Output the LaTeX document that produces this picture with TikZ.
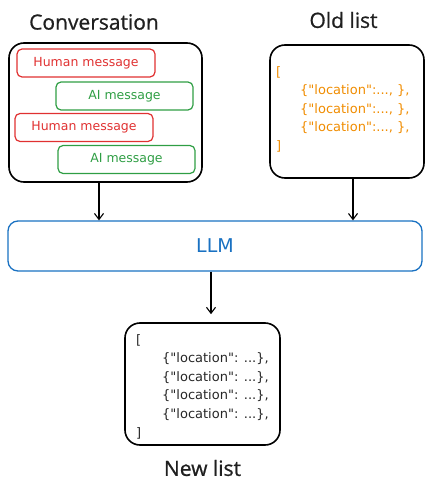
\documentclass[tikz,border=0pt]{standalone}
\usepackage{fontspec}
\setmainfont{Open Sans}
\newfontfamily\handfont{DejaVu Sans}
\newfontfamily\titfont[FakeBold=0.8]{Open Sans}
\usetikzlibrary{positioning,arrows.meta,calc}
\definecolor{xred}{HTML}{E03131}
\definecolor{xgreen}{HTML}{2F9E44}
\definecolor{xblue}{HTML}{1971C2}
\definecolor{xorange}{HTML}{F08C00}
\tikzset{
  skupina/.style={draw=black,line width=1.6pt,rounded corners=15pt,inner sep=0pt},
  titul/.style={font=\titfont\fontsize{21}{24}\selectfont,text=black!88},
  zpravaH/.style={draw=xred,line width=1.2pt,rounded corners=5pt,minimum width=138pt,minimum height=28pt,
    text=xred,font=\handfont\fontsize{12.5}{14}\selectfont},
  zpravaA/.style={zpravaH,draw=xgreen,text=xgreen,minimum width=137pt},
  seznam/.style={align=left,anchor=north west,inner sep=0pt,font=\handfont\fontsize{13}{18.6}\selectfont},
  sip/.style={-{Straight Barb[length=6pt,width=9pt]},line width=1.1pt},
}
\begin{document}
\begin{tikzpicture}[x=1pt,y=-1pt]
  \useasboundingbox (0,0) rectangle (433,484);
  % vstupy
  \node[skupina,minimum width=193pt,minimum height=139pt] (conv) at (105.5,112.5) {};
  \node[skupina,minimum width=154pt,minimum height=133pt] (old) at (347,111.5) {};
  \node[titul] (convT) at (94,22) {Conversation};
  \node[titul] (oldT) at (343.5,20) {Old list};
  \node[zpravaH] (hm1) at (86,63) {Human message};
  \node[zpravaA] (ai1) at (124.5,96) {AI message};
  \node[zpravaH] (hm2) at (84,127.5) {Human message};
  \node[zpravaA] (ai2) at (126.5,159.5) {AI message};
  \node[seznam,text=xorange] (oldL) at (276,66) {[\\
    \hspace*{24pt}\{"location":..., \},\\
    \hspace*{24pt}\{"location":..., \},\\
    \hspace*{24pt}\{"location":..., \},\\
    ]};
  % model
  \node[draw=xblue,line width=1.3pt,rounded corners=10pt,minimum width=414pt,minimum height=50pt,
    text=xblue,font=\handfont\fontsize{19}{22}\selectfont] (llm) at (215,246) {LLM};
  % vystup
  \node[skupina,minimum width=155pt,minimum height=122pt] (new) at (202.5,384) {};
  \node[seznam,text=black!85] (newL) at (136,334) {[\\
    \hspace*{26pt}\{"location": ...\},\\
    \hspace*{26pt}\{"location": ...\},\\
    \hspace*{26pt}\{"location": ...\},\\
    \hspace*{26pt}\{"location": ...\},\\
    ]};
  \node[titul] (newT) at (202.5,468) {New list};
  \draw[sip] ([xshift=-6.5pt]conv.south) -- ([xshift=-6.5pt]conv.south |- llm.north);
  \draw[sip] ([xshift=6pt]old.south) -- ([xshift=6pt]old.south |- llm.north);
  \draw[sip,shorten >=8pt] ([xshift=8.5pt]new.north |- llm.south) -- ([xshift=8.5pt]new.north);
\end{tikzpicture}
\end{document}
